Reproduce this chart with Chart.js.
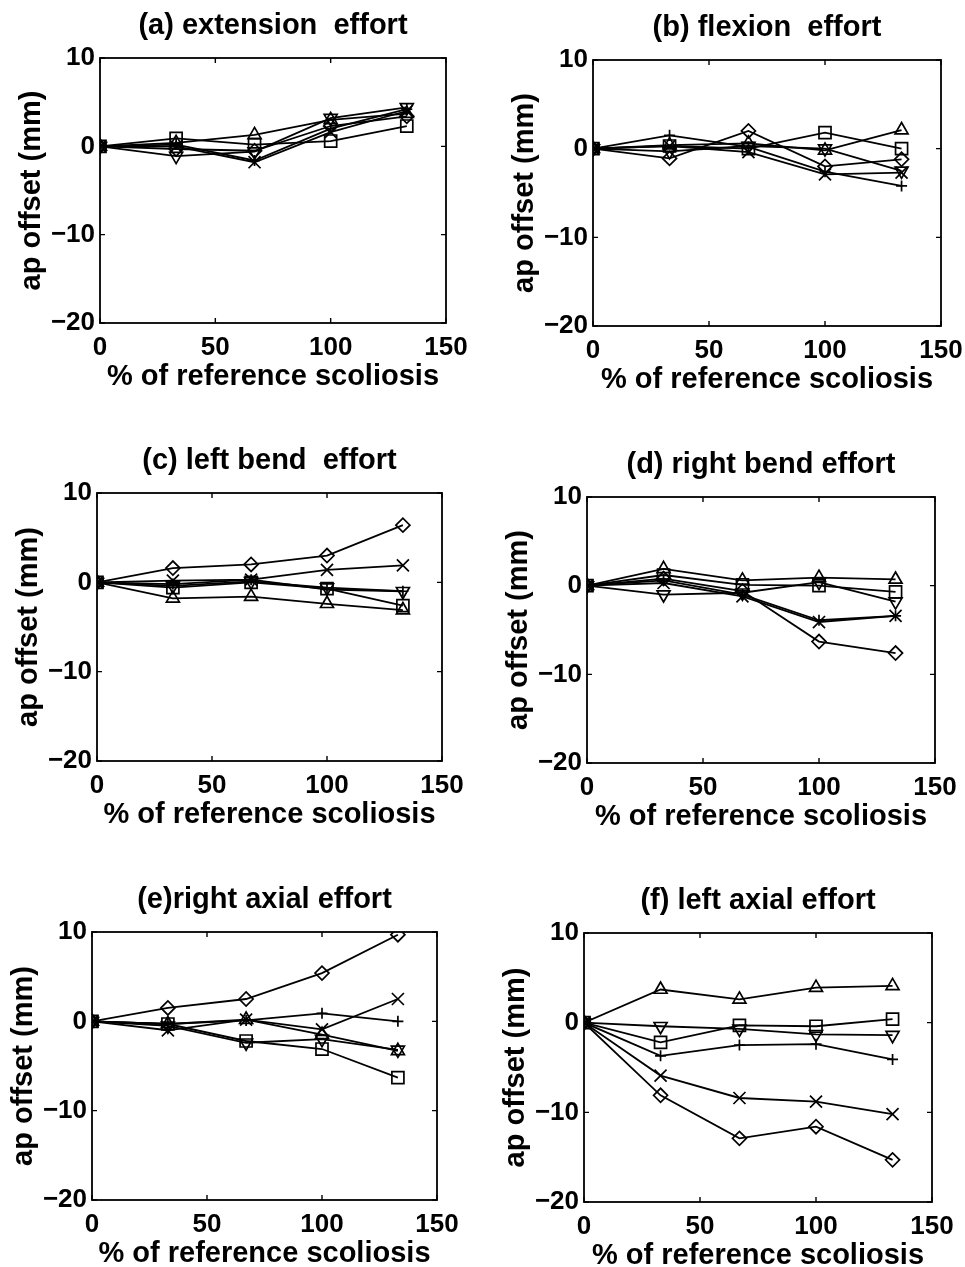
<!DOCTYPE html>
<html><head><meta charset="utf-8">
<script src="https://cdn.jsdelivr.net/npm/chart.js@4/dist/chart.umd.min.js"></script>
<style>
body{margin:0;background:#fff;width:965px;height:1267px;position:relative;overflow:hidden}
canvas{position:absolute}
</style>
</head><body>
<script>
// ---- data ----
const xPercent = [0, 33, 67, 100, 133];
const xTickValues = [0, 50, 100, 150];
const yTickValues = [-20, -10, 0, 10];
const panelTitles = ["(a) extension  effort", "(b) flexion  effort", "(c) left bend  effort",
                     "(d) right bend effort", "(e)right axial effort", "(f) left axial effort"];
const xAxisTitle = "% of reference scoliosis";
const yAxisTitle = "ap offset (mm)";

const a_plus    = [0, 0.2, -1.6, 2.0, 4.2];
const a_cross   = [0, 0.0, -1.8, 1.6, 4.0];
const a_diamond = [0, -0.3, -0.5, 2.3, 3.4];
const a_triUp   = [0, 0.4, 1.3, 3.0, 3.7];
const a_triDown = [0, -1.1, -0.6, 3.2, 4.4];
const a_square  = [0, 0.9, 0.2, 0.6, 2.3];

const b_plus    = [0, 1.5, 0.2, -2.6, -4.2];
const b_cross   = [0, 0.3, -0.4, -2.9, -2.7];
const b_diamond = [0, -1.1, 2.0, -2.0, -1.2];
const b_triUp   = [0, 0.4, 0.6, -0.2, 2.1];
const b_triDown = [0, -0.3, 0.3, 0.0, -2.5];
const b_square  = [0, 0.3, 0.0, 1.8, 0.0];

const c_plus    = [0, -0.2, 0.3, -0.8, -1.0];
const c_cross   = [0, 0.2, 0.3, 1.4, 1.9];
const c_diamond = [0, 1.6, 2.0, 3.0, 6.4];
const c_triUp   = [0, -1.8, -1.6, -2.4, -3.1];
const c_triDown = [0, -0.4, 0.1, -0.6, -1.0];
const c_square  = [0, -0.6, 0.0, -0.7, -2.6];

const d_plus    = [0, 0.6, -1.0, -3.9, -3.4];
const d_cross   = [0, 0.3, -1.2, -4.1, -3.4];
const d_diamond = [0, 0.8, -0.6, -6.3, -7.6];
const d_triUp   = [0, 1.9, 0.6, 0.9, 0.7];
const d_triDown = [0, -1.0, -0.8, 0.4, -1.8];
const d_square  = [0, 1.2, 0.1, 0.0, -0.7];

const e_plus    = [0, -0.3, 0.1, 0.9, 0.0];
const e_cross   = [0, -1.0, 0.2, -0.9, 2.5];
const e_diamond = [0, 1.5, 2.5, 5.4, 9.7];
const e_triUp   = [0, -0.3, 0.2, -1.5, -3.3];
const e_triDown = [0, -0.5, -2.4, -2.0, -3.2];
const e_square  = [0, -0.3, -2.2, -3.1, -6.3];

const f_plus    = [0, -3.7, -2.5, -2.4, -4.1];
const f_cross   = [0, -5.9, -8.4, -8.8, -10.2];
const f_diamond = [0, -8.1, -12.9, -11.6, -15.3];
const f_triUp   = [0, 3.7, 2.6, 3.9, 4.1];
const f_triDown = [0, -0.4, -0.7, -1.3, -1.4];
const f_square  = [0, -2.2, -0.3, -0.4, 0.4];

const panelSeries = [
  [a_plus, a_cross, a_diamond, a_triUp, a_triDown, a_square],
  [b_plus, b_cross, b_diamond, b_triUp, b_triDown, b_square],
  [c_plus, c_cross, c_diamond, c_triUp, c_triDown, c_square],
  [d_plus, d_cross, d_diamond, d_triUp, d_triDown, d_square],
  [e_plus, e_cross, e_diamond, e_triUp, e_triDown, e_square],
  [f_plus, f_cross, f_diamond, f_triUp, f_triDown, f_square]
];

// ---- styling / layout ----
const markerStyles = [
  {pointStyle: 'cross',    radius: 5.5, rotation: 0},
  {pointStyle: 'crossRot', radius: 8.5, rotation: 0},
  {pointStyle: 'rectRot',  radius: 7,   rotation: 0},
  {pointStyle: 'triangle', radius: 7.5, rotation: 0},
  {pointStyle: 'triangle', radius: 7.5, rotation: 180},
  {pointStyle: 'rect',     radius: 8.5, rotation: 0}
];
// plot areas (left, top, right, bottom)
const plotRects = [
  [100, 58, 446, 323], [593, 60, 941, 326],
  [97, 493, 442, 761], [587, 497, 935, 763],
  [92, 932, 437, 1200], [584, 933, 932, 1202]
];
const YW = 100, TH = 60, XH = 80, RP = 45;
const FAM = '"Liberation Sans", Arial, Helvetica, sans-serif';

const frameTicks = {
  id: 'frameTicks',
  afterDatasetsDraw(chart) {
    const {ctx, chartArea: ca, scales} = chart;
    ctx.save();
    ctx.strokeStyle = '#000';
    ctx.lineWidth = 1.8;
    ctx.strokeRect(ca.left, ca.top, ca.right - ca.left, ca.bottom - ca.top);
    ctx.lineWidth = 1.4;
    const L = 5;
    scales.x.ticks.forEach(t => {
      const px = scales.x.getPixelForValue(t.value);
      ctx.beginPath();
      ctx.moveTo(px, ca.bottom); ctx.lineTo(px, ca.bottom - L);
      ctx.moveTo(px, ca.top); ctx.lineTo(px, ca.top + L);
      ctx.stroke();
    });
    scales.y.ticks.forEach(t => {
      const py = scales.y.getPixelForValue(t.value);
      ctx.beginPath();
      ctx.moveTo(ca.left, py); ctx.lineTo(ca.left + L, py);
      ctx.moveTo(ca.right, py); ctx.lineTo(ca.right - L, py);
      ctx.stroke();
    });
    ctx.restore();
  }
};

panelSeries.forEach((series, p) => {
  const [l, t, r, b] = plotRects[p];
  const cv = document.createElement('canvas');
  const w = YW + (r - l) + RP, h = TH + (b - t) + XH;
  cv.width = w; cv.height = h;
  cv.style.left = (l - YW) + 'px';
  cv.style.top = (t - TH) + 'px';
  cv.style.width = w + 'px'; cv.style.height = h + 'px';
  document.body.appendChild(cv);

  const datasets = series.map((vals, i) => ({
    data: vals.map((v, k) => ({x: xPercent[k], y: v})),
    borderColor: '#000',
    borderWidth: 1.8,
    pointStyle: markerStyles[i].pointStyle,
    pointRadius: markerStyles[i].radius,
    pointRotation: markerStyles[i].rotation,
    pointBorderColor: '#000',
    pointBorderWidth: 1.7,
    pointBackgroundColor: 'rgba(0,0,0,0)',
    fill: false,
    tension: 0
  }));

  new Chart(cv, {
    type: 'line',
    data: {datasets},
    options: {
      responsive: false,
      animation: false,
      devicePixelRatio: 1,
      layout: {padding: {left: 0, right: RP, top: 0, bottom: 0}},
      plugins: {
        legend: {display: false},
        tooltip: {enabled: false},
        title: {
          display: true, text: panelTitles[p], color: '#000', fullSize: false,
          font: {family: FAM, size: 29, weight: 'bold', lineHeight: 1.2},
          padding: {top: 10.6, bottom: 14.6}
        }
      },
      scales: {
        x: {
          type: 'linear', min: 0, max: 150,
          afterBuildTicks: s => { s.ticks = xTickValues.map(v => ({value: v})); },
          afterFit: s => { s.height = XH; },
          grid: {display: false, drawTicks: false},
          border: {display: false},
          ticks: {color: '#000', padding: 9, maxRotation: 0, autoSkip: false,
                  font: {family: FAM, size: 26, weight: 'bold'}},
          title: {display: true, text: xAxisTitle, color: '#000',
                  font: {family: FAM, size: 29, weight: 'bold', lineHeight: 1.2},
                  padding: {top: 0, bottom: 8.6}}
        },
        y: {
          type: 'linear', min: -20, max: 10,
          afterBuildTicks: s => { s.ticks = yTickValues.map(v => ({value: v})); },
          afterFit: s => { s.width = YW; },
          grid: {display: false, drawTicks: false},
          border: {display: false},
          ticks: {color: '#000', padding: 5, autoSkip: false,
                  font: {family: FAM, size: 26, weight: 'bold'},
                  callback: v => String(v).replace('-', '\u2212')},
          title: {display: true, text: yAxisTitle, color: '#000',
                  font: {family: FAM, size: 29, weight: 'bold', lineHeight: 1.2},
                  padding: {top: 14.6, bottom: 0}}
        }
      }
    },
    plugins: [frameTicks]
  });
});
</script>
</body></html>
